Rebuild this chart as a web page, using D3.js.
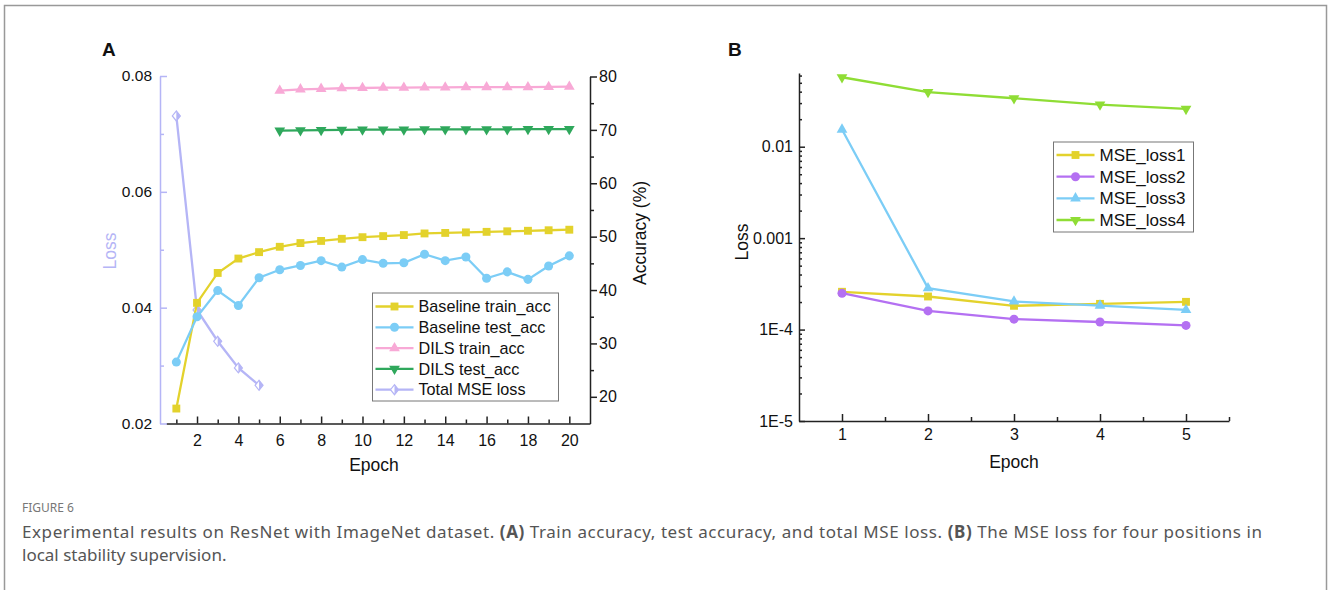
<!DOCTYPE html>
<html>
<head>
<meta charset="utf-8">
<script src="https://cdn.jsdelivr.net/npm/d3@7"></script>
<style>
  body { margin: 0; background: #fff; }
  svg text { font-family: "Liberation Sans", Arial, sans-serif; }
  svg text.cap { font-family: "Noto Sans", "Open Sans", sans-serif; }
</style>
</head>
<body>
<svg id="fig" width="1328" height="590"></svg>
<script>
// ---- data, panel A ----
const epochsA = [1, 2, 3, 4, 5, 6, 7, 8, 9, 10, 11, 12, 13, 14, 15, 16, 17, 18, 19, 20];
const baselineTrain = [17.8, 37.6, 43.2, 45.9, 47.1, 48.1, 48.8, 49.2, 49.6, 49.9, 50.1, 50.3, 50.6, 50.7, 50.8, 50.9, 51.0, 51.1, 51.2, 51.3];
const baselineTest = [26.5, 35.0, 39.9, 37.1, 42.3, 43.8, 44.6, 45.5, 44.3, 45.7, 45.0, 45.1, 46.7, 45.5, 46.2, 42.2, 43.4, 42.0, 44.5, 46.4];
const epochsDils = [6, 7, 8, 9, 10, 11, 12, 13, 14, 15, 16, 17, 18, 19, 20];
const dilsTrain = [77.35, 77.6, 77.7, 77.8, 77.85, 77.9, 77.9, 77.95, 77.95, 78.0, 78.0, 78.0, 78.0, 78.05, 78.1];
const dilsTest = [69.85, 69.9, 69.95, 70.0, 70.05, 70.05, 70.05, 70.1, 70.1, 70.1, 70.1, 70.1, 70.15, 70.15, 70.15];
const epochsMse = [1, 2, 3, 4, 5];
const totalMse = [0.0731, 0.0396, 0.0342, 0.0296, 0.0266];
const lossTicksA = [0.02, 0.04, 0.06, 0.08];
const lossMinorA = [0.03, 0.05, 0.07];
const accTicks = [20, 30, 40, 50, 60, 70, 80];
const accMinor = [25, 35, 45, 55, 65, 75];
const epochTicksA = [2, 4, 6, 8, 10, 12, 14, 16, 18, 20];
const epochMinorA = [1, 3, 5, 7, 9, 11, 13, 15, 17, 19];

// ---- data, panel B ----
const epochsB = [1, 2, 3, 4, 5];
const mseLoss1 = [2.59e-4, 2.30e-4, 1.82e-4, 1.91e-4, 2.01e-4];
const mseLoss2 = [2.50e-4, 1.60e-4, 1.30e-4, 1.21e-4, 1.11e-4];
const mseLoss3 = [0.0154, 2.84e-4, 2.03e-4, 1.83e-4, 1.64e-4];
const mseLoss4 = [0.0575, 0.0395, 0.0339, 0.0289, 0.0259];
const lossTicksB = [1e-5, 1e-4, 1e-3, 1e-2];
const lossTickLabelsB = ["1E-5", "1E-4", "0.001", "0.01"];
const epochTicksB = [1, 2, 3, 4, 5];
const epochMinorB = [1.5, 2.5, 3.5, 4.5, 5.5];

const yellow = "#e3d22c", skyblue = "#7ccdf6", pink = "#f8a9d6",
      green = "#2fa85c", lavender = "#b5b5f6", violet = "#b470f2", lime = "#8fdd35";

const svg = d3.select("#fig");

// frame round the figure
svg.append("rect")
  .attr("x", 4.5).attr("y", 5.5).attr("width", 1322).attr("height", 600)
  .attr("fill", "none").attr("stroke", "#999").attr("stroke-width", 1.5);

function styleAxis(g, size, color) {
  g.attr("font-size", size);
  g.selectAll("path, line").attr("stroke", color).attr("stroke-width", 1.5);
  g.selectAll("text").attr("fill", "#111");
}

// marker drawing
function marker(g, kind, x, y, color) {
  if (kind === "diamond") {
    g.append("path").attr("d", `M${x},${y - 5}L${x + 4},${y}L${x},${y + 5}L${x - 4},${y}Z`)
      .attr("fill", "#fff").attr("stroke", color).attr("stroke-width", 1.2);
    g.append("path").attr("d", `M${x},${y - 5}L${x + 4},${y}L${x},${y + 5}Z`).attr("fill", color);
    return;
  }
  const types = { square: d3.symbolSquare, circle: d3.symbolCircle, up: d3.symbolTriangle, down: d3.symbolTriangle };
  const sizes = { square: 62, circle: 64, up: 50, down: 50 };
  g.append("path")
    .attr("d", d3.symbol().type(types[kind]).size(sizes[kind])())
    .attr("transform", `translate(${x},${y})${kind === "down" ? " rotate(180)" : ""}`)
    .attr("fill", color);
}

function drawSeries(g, xs, ys, xScale, yScale, color, kind) {
  const pts = xs.map((e, i) => [xScale(e), yScale(ys[i])]);
  g.append("path").attr("d", d3.line()(pts))
    .attr("fill", "none").attr("stroke", color).attr("stroke-width", 2.3);
  pts.forEach(p => marker(g, kind, p[0], p[1], color));
}

function drawLegend(g, items, x, y, w, h, rowY, fontSize) {
  g.append("rect").attr("x", x).attr("y", y).attr("width", w).attr("height", h)
    .attr("fill", "#fff").attr("stroke", "#777").attr("stroke-width", 1);
  items.forEach((it, i) => {
    const cy = rowY[i];
    g.append("line").attr("x1", x + 3).attr("x2", x + 41).attr("y1", cy).attr("y2", cy)
      .attr("stroke", it.color).attr("stroke-width", 2.3);
    marker(g, it.kind, x + 22, cy, it.color);
    g.append("text").attr("x", x + 46).attr("y", cy).attr("dy", "0.35em")
      .attr("font-size", fontSize).attr("fill", "#111").text(it.label);
  });
}

// ================= Panel A =================
const xA = d3.scaleLinear().domain([0.5, 21]).range([166, 590]);
const yLoss = d3.scaleLinear().domain([0.02, 0.08]).range([423.5, 76]);
const yAcc = d3.scaleLinear().domain([15, 80]).range([423.5, 76.5]);

const pA = svg.append("g");

// bottom axis
const gxA = pA.append("g").attr("transform", "translate(0,423.5)");
gxA.call(d3.axisBottom(xA).tickValues(epochTicksA).tickSizeInner(-7).tickSizeOuter(0).tickPadding(11));
gxA.append("g").call(d3.axisBottom(xA).tickValues(epochMinorA).tickSize(-4).tickFormat(""))
  .select(".domain").remove();
styleAxis(gxA, 16, "#222");

// right axis (accuracy)
const gyR = pA.append("g").attr("transform", "translate(590,0)");
gyR.call(d3.axisRight(yAcc).tickValues(accTicks).tickSizeInner(7).tickSizeOuter(0).tickPadding(2));
gyR.append("g").call(d3.axisRight(yAcc).tickValues(accMinor).tickSize(4).tickFormat(""))
  .select(".domain").remove();
styleAxis(gyR, 16, "#222");

// left axis (loss), light purple
const gyL = pA.append("g").attr("transform", "translate(160,0)");
gyL.call(d3.axisLeft(yLoss).tickValues(lossTicksA).tickSizeInner(-7).tickSizeOuter(0).tickPadding(8)
  .tickFormat(d3.format(".2f")));
gyL.append("g").call(d3.axisLeft(yLoss).tickValues(lossMinorA).tickSize(-4).tickFormat(""))
  .select(".domain").remove();
styleAxis(gyL, 15.5, lavender);

// series
drawSeries(pA, epochsMse, totalMse, xA, yLoss, lavender, "diamond");
drawSeries(pA, epochsA, baselineTrain, xA, yAcc, yellow, "square");
drawSeries(pA, epochsA, baselineTest, xA, yAcc, skyblue, "circle");
drawSeries(pA, epochsDils, dilsTrain, xA, yAcc, pink, "up");
drawSeries(pA, epochsDils, dilsTest, xA, yAcc, green, "down");

drawLegend(pA, [
  { label: "Baseline train_acc", color: yellow, kind: "square" },
  { label: "Baseline test_acc", color: skyblue, kind: "circle" },
  { label: "DILS train_acc", color: pink, kind: "up" },
  { label: "DILS test_acc", color: green, kind: "down" },
  { label: "Total MSE loss", color: lavender, kind: "diamond" }
], 372.5, 293, 186, 108, [306.5, 327.3, 348.1, 368.9, 389.7], 16.2);

// titles
pA.append("text").attr("x", 374).attr("y", 471).attr("text-anchor", "middle")
  .attr("font-size", 17.5).attr("fill", "#111").text("Epoch");
pA.append("text").attr("transform", "translate(116,251) rotate(-90)").attr("text-anchor", "middle")
  .attr("font-size", 17.5).attr("fill", lavender).text("Loss");
pA.append("text").attr("transform", "translate(646,233) rotate(-90)").attr("text-anchor", "middle")
  .attr("font-size", 17.5).attr("fill", "#111").text("Accuracy (%)");
pA.append("text").attr("x", 102).attr("y", 56).attr("font-size", 19).attr("font-weight", "bold")
  .attr("fill", "#111").text("A");

// ================= Panel B =================
const xB = d3.scaleLinear().domain([0.5, 5.5]).range([799, 1229]);
const yB = d3.scaleLog().domain([1e-5, 0.064]).range([421, 73]);

const pB = svg.append("g");

const gxB = pB.append("g").attr("transform", "translate(0,421)");
gxB.call(d3.axisBottom(xB).tickValues(epochTicksB).tickSizeInner(-7).tickSizeOuter(0).tickPadding(8)
  .tickFormat(d3.format("d")));
gxB.append("g").call(d3.axisBottom(xB).tickValues(epochMinorB).tickSize(-4).tickFormat(""))
  .select(".domain").remove();
styleAxis(gxB, 16, "#222");

const minorB = [];
lossTicksB.forEach(dec => { for (let k = 2; k <= 9; k++) if (dec * k <= 0.064) minorB.push(dec * k); });
const gyB = pB.append("g").attr("transform", "translate(799,0)");
gyB.call(d3.axisLeft(yB).tickValues(lossTicksB).tickSizeInner(-6).tickSizeOuter(0).tickPadding(6)
  .tickFormat((d, i) => lossTickLabelsB[i]));
gyB.append("g").call(d3.axisLeft(yB).tickValues(minorB).tickSize(-3).tickFormat(""))
  .select(".domain").remove();
styleAxis(gyB, 16, "#222");

drawSeries(pB, epochsB, mseLoss1, xB, yB, yellow, "square");
drawSeries(pB, epochsB, mseLoss2, xB, yB, violet, "circle");
drawSeries(pB, epochsB, mseLoss3, xB, yB, skyblue, "up");
drawSeries(pB, epochsB, mseLoss4, xB, yB, lime, "down");

drawLegend(pB, [
  { label: "MSE_loss1", color: yellow, kind: "square" },
  { label: "MSE_loss2", color: violet, kind: "circle" },
  { label: "MSE_loss3", color: skyblue, kind: "up" },
  { label: "MSE_loss4", color: lime, kind: "down" }
], 1053.5, 142, 140, 90, [155, 176.7, 198.3, 220], 17);

pB.append("text").attr("x", 1014).attr("y", 468).attr("text-anchor", "middle")
  .attr("font-size", 17.5).attr("fill", "#111").text("Epoch");
pB.append("text").attr("transform", "translate(748,242) rotate(-90)").attr("text-anchor", "middle")
  .attr("font-size", 17.5).attr("fill", "#111").text("Loss");
pB.append("text").attr("x", 728).attr("y", 56).attr("font-size", 19).attr("font-weight", "bold")
  .attr("fill", "#111").text("B");

// ================= caption =================
svg.append("text").attr("class", "cap").attr("x", 22).attr("y", 512)
  .attr("font-size", 12).attr("fill", "#777").text("FIGURE 6");
const line1 = svg.append("text").attr("class", "cap").attr("x", 22).attr("y", 538)
  .attr("font-size", 17).attr("fill", "#555")
  .attr("textLength", 1240).attr("lengthAdjust", "spacing");
line1.append("tspan").text("Experimental results on ResNet with ImageNet dataset. ");
line1.append("tspan").attr("font-weight", "bold").text("(A)");
line1.append("tspan").text(" Train accuracy, test accuracy, and total MSE loss. ");
line1.append("tspan").attr("font-weight", "bold").text("(B)");
line1.append("tspan").text(" The MSE loss for four positions in");
svg.append("text").attr("class", "cap").attr("x", 22).attr("y", 561)
  .attr("font-size", 17).attr("fill", "#555").text("local stability supervision.");
</script>
</body>
</html>
